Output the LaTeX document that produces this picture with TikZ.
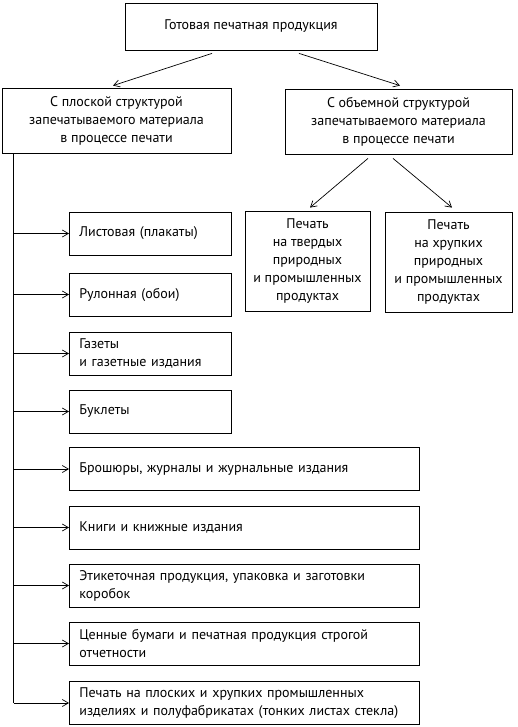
\documentclass[tikz,border=0pt]{standalone}
\usepackage{fontspec}
\setmainfont{PT Sans}
\usetikzlibrary{arrows.meta}
\tikzset{
	box/.style={draw, line width=0.8pt, rectangle, align=center, inner sep=0pt, font=\fontsize{14}{18}\selectfont},
	item/.style={draw, line width=0.8pt, rectangle, anchor=west, align=left, inner xsep=10pt, inner ysep=0pt, minimum height=43pt, font=\fontsize{14}{18}\selectfont},
	narrow/.style={item, text width=142pt},
	wide/.style={item, text width=330pt},
	arr/.style={line width=0.7pt, -{Straight Barb[length=6pt,width=7pt]}},
}

\begin{document}
\begin{tikzpicture}[x=1pt, y=-1pt]
		%%%%% START %%%%%
		\useasboundingbox (0, 0) rectangle (517, 727);
		
		\node[box, minimum width=252pt, minimum height=47pt] (top) at (251, 26.5) {Готовая печатная продукция};
		
		\node[box, minimum width=229pt, minimum height=65pt] (flat) at (116.5, 120.5) {С плоской структурой\\запечатываемого материала\\в процессе печати};
		\node[box, minimum width=227pt, minimum height=65pt] (bulk) at (398.5, 121.5) {С объемной структурой\\запечатываемого материала\\в процессе печати};
		
		\node[box, minimum width=125pt, minimum height=100pt] (hard) at (307.5, 261) {Печать\\на твердых\\природных\\и промышленных\\продуктах};
		\node[box, minimum width=127pt, minimum height=100pt] (fragile) at (448.5, 262) {Печать\\на хрупких\\природных\\и промышленных\\продуктах};
		
		\draw[arr] ([xshift=-39pt, yshift=-3pt]top.south) -- ([xshift=-3.5pt, yshift=2pt]flat.north);
		\draw[arr] ([xshift=48pt, yshift=-3pt]top.south) -- ([xshift=1.5pt, yshift=3pt]bulk.north);
		\draw[arr] ([xshift=-30.5pt, yshift=-4pt]bulk.south) -- ([xshift=2.5pt, yshift=3pt]hard.north);
		\draw[arr] ([xshift=-5.5pt, yshift=-4pt]bulk.south) -- ([xshift=3.5pt, yshift=4pt]fragile.north);
		
		\node[narrow] (sheet) at (69, 233.5) {Листовая (плакаты)};
		\node[narrow] (roll) at (69, 294.5) {Рулонная (обои)};
		\node[narrow] (news) at (69, 353.5) {Газеты\\и газетные издания};
		\node[narrow] (booklet) at (69, 411.5) {Буклеты};
		\node[wide] (mag) at (69, 469) {Брошюры, журналы и журнальные издания};
		\node[wide] (book) at (69, 527.5) {Книги и книжные издания};
		\node[wide] (label) at (69, 585.5) {Этикеточная продукция, упаковка и заготовки\\коробок};
		\node[wide] (secure) at (69, 643.5) {Ценные бумаги и печатная продукция строгой\\отчетности};
		\node[wide] (glass) at (69, 703) {Печать на плоских и хрупких промышленных\\изделиях и полуфабрикатах (тонких листах стекла)};
		
		\coordinate (trunk) at ([xshift=12pt]flat.south west);
		\draw[line width=0.7pt] (trunk) -- (trunk |- glass.west);
		
		\draw[arr] (trunk |- sheet.west) -- (sheet.west);
		\draw[arr] (trunk |- roll.west) -- (roll.west);
		\draw[arr] (trunk |- news.west) -- (news.west);
		\draw[arr] (trunk |- booklet.west) -- (booklet.west);
		\draw[arr] (trunk |- mag.west) -- (mag.west);
		\draw[arr] (trunk |- book.west) -- (book.west);
		\draw[arr] (trunk |- label.west) -- (label.west);
		\draw[arr] (trunk |- secure.west) -- (secure.west);
		\draw[arr] (trunk |- glass.west) -- (glass.west);
		
		%%%%% END %%%%%
	\end{tikzpicture}
\end{document}
